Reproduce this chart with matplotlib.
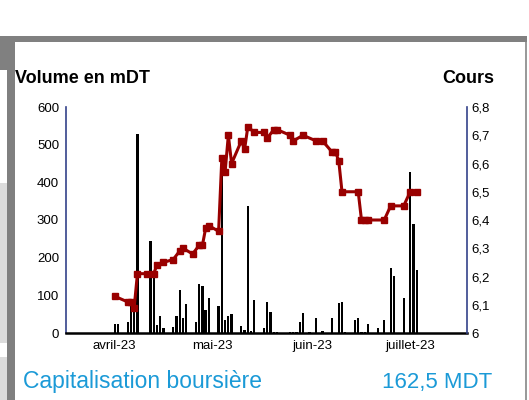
import matplotlib
matplotlib.use("Agg")
import numpy as np
import pandas as pd
from matplotlib import pyplot as plt
from matplotlib.patches import Rectangle
from matplotlib.ticker import FixedLocator, FuncFormatter

plt.rcParams["font.family"] = ["Liberation Sans", "DejaVu Sans"]

# cours (price) series
price_dates = [
    "2023-04-01", "2023-04-05", "2023-04-06", "2023-04-07", "2023-04-08",
    "2023-04-11", "2023-04-13", "2023-04-14", "2023-04-16", "2023-04-19",
    "2023-04-21", "2023-04-22", "2023-04-25", "2023-04-27", "2023-04-28",
    "2023-04-29", "2023-04-30", "2023-05-03", "2023-05-04", "2023-05-05",
    "2023-05-06", "2023-05-07", "2023-05-10", "2023-05-11", "2023-05-12",
    "2023-05-14", "2023-05-17", "2023-05-18", "2023-05-20", "2023-05-21",
    "2023-05-25", "2023-05-26", "2023-05-29", "2023-06-02", "2023-06-04",
    "2023-06-07", "2023-06-08", "2023-06-09", "2023-06-10", "2023-06-15",
    "2023-06-16", "2023-06-17", "2023-06-18", "2023-06-23", "2023-06-25",
    "2023-06-29", "2023-07-01", "2023-07-03",
]
price_values = [
    6.13, 6.11, 6.11, 6.09, 6.21,
    6.21, 6.21, 6.24, 6.25, 6.26,
    6.29, 6.30, 6.28, 6.31, 6.31,
    6.37, 6.38, 6.36, 6.62, 6.57,
    6.70, 6.60, 6.68, 6.65, 6.73,
    6.71, 6.71, 6.69, 6.72, 6.72,
    6.70, 6.68, 6.70, 6.68, 6.68,
    6.64, 6.64, 6.61, 6.50, 6.50,
    6.40, 6.40, 6.40, 6.40, 6.45,
    6.45, 6.50, 6.50,
]

# volume series (mDT)
volume_dates = [
    "2023-04-01", "2023-04-02", "2023-04-05", "2023-04-06", "2023-04-07",
    "2023-04-08", "2023-04-12", "2023-04-13", "2023-04-14", "2023-04-15",
    "2023-04-16", "2023-04-19", "2023-04-20", "2023-04-21", "2023-04-22",
    "2023-04-23", "2023-04-26", "2023-04-27", "2023-04-28", "2023-04-29",
    "2023-04-30", "2023-05-03", "2023-05-04", "2023-05-05", "2023-05-06",
    "2023-05-07", "2023-05-10", "2023-05-11", "2023-05-12", "2023-05-13",
    "2023-05-14", "2023-05-17", "2023-05-18", "2023-05-19", "2023-05-20",
    "2023-05-21", "2023-05-25", "2023-05-26", "2023-05-27", "2023-05-28",
    "2023-05-29", "2023-05-31", "2023-06-02", "2023-06-04", "2023-06-07",
    "2023-06-09", "2023-06-10", "2023-06-11", "2023-06-14", "2023-06-15",
    "2023-06-16", "2023-06-17", "2023-06-18", "2023-06-21", "2023-06-23",
    "2023-06-25", "2023-06-26", "2023-06-29", "2023-07-01", "2023-07-02",
    "2023-07-03",
]
volume_values = [
    25, 25, 30, 85, 70,
    528, 243, 155, 20, 45,
    12, 15, 45, 114, 40,
    78, 30, 130, 125, 61,
    92, 72, 440, 35, 45,
    50, 18, 8, 337, 5,
    88, 12, 83, 57, 3,
    3, 3, 3, 3, 30,
    52, 3, 41, 5, 41,
    79, 83, 3, 35, 41,
    3, 3, 24, 12, 35,
    172, 151, 92, 428, 289,
    167,
]

month_ticks = ["2023-04-01", "2023-05-01", "2023-06-01", "2023-07-01"]
month_labels = ["avril-23", "mai-23", "juin-23", "juillet-23"]

W, H = 529, 400
fig = plt.figure(figsize=(W / 100, H / 100), dpi=100)
fig.patch.set_facecolor("white")


def px_rect(x0, y0, x1, y1, color):
    fig.add_artist(Rectangle((x0 / W, 1 - y1 / H), (x1 - x0) / W, (y1 - y0) / H,
                             transform=fig.transFigure, facecolor=color,
                             edgecolor="none", zorder=0))


# page frame around the card
px_rect(0, 36, 15, 70, "#808080")
px_rect(15, 36, 527, 42, "#808080")
px_rect(7, 36, 15, 400, "#808080")
px_rect(525, 42, 527, 400, "#9a9a9a")
px_rect(0, 183, 7, 343, "#dcdcdc")
px_rect(0, 357, 7, 400, "#dcdcdc")

x0, x1, y_top, y_bot = 66, 467, 107, 333
ax = fig.add_axes([x0 / W, 1 - y_bot / H, (x1 - x0) / W, (y_bot - y_top) / H])
ax.set_facecolor("none")
ax2 = ax.twinx()

vd = pd.to_datetime(volume_dates)
pd_dates = pd.to_datetime(price_dates)

ax.bar(vd, volume_values, width=0.7, color="black", zorder=2)
ax2.plot(pd_dates, price_values, color="#990000", lw=2.2, marker="s",
         markersize=4.5, zorder=3)

ax.set_xlim(pd.Timestamp("2023-03-17"), pd.Timestamp("2023-07-18 12:00"))
ax.set_ylim(0, 600)
ax2.set_ylim(6, 6.8)
ax.set_yticks(np.arange(0, 601, 100))
ax2.set_yticks(np.arange(6, 6.81, 0.1))
ax2.yaxis.set_major_formatter(FuncFormatter(lambda v, p: f"{v:.1f}".replace(".", ",").replace(",0", "")))

ax.xaxis.set_major_locator(FixedLocator(pd.to_datetime(month_ticks).map(matplotlib.dates.date2num)))
ax.set_xticklabels(month_labels)

for a in (ax, ax2):
    a.spines["top"].set_visible(False)
    a.tick_params(length=0, labelsize=9.5, colors="black")
ax.tick_params(axis="y", pad=5)
ax2.tick_params(axis="y", pad=3)
ax.tick_params(axis="x", pad=5)
ax.spines["left"].set_color("#34428a")
ax.spines["left"].set_linewidth(1.2)
ax2.spines["right"].set_color("#34428a")
ax2.spines["right"].set_linewidth(1.2)
ax2.spines["left"].set_visible(False)
ax.spines["right"].set_visible(False)
ax.spines["bottom"].set_color("black")
ax.spines["bottom"].set_linewidth(1.8)
ax2.spines["bottom"].set_visible(False)

fig.text(15 / W, 1 - 83 / H, "Volume en mDT", fontsize=13, fontweight="bold",
         ha="left", va="baseline")
fig.text(494 / W, 1 - 83 / H, "Cours", fontsize=13, fontweight="bold",
         ha="right", va="baseline")
fig.text(23 / W, 1 - 388 / H, "Capitalisation boursière", fontsize=16.5,
         color="#1b9ad7", ha="left", va="baseline")
fig.text(492 / W, 1 - 388 / H, "162,5 MDT", fontsize=16,
         color="#1b9ad7", ha="right", va="baseline")

fig.savefig("out.png", dpi=100)
